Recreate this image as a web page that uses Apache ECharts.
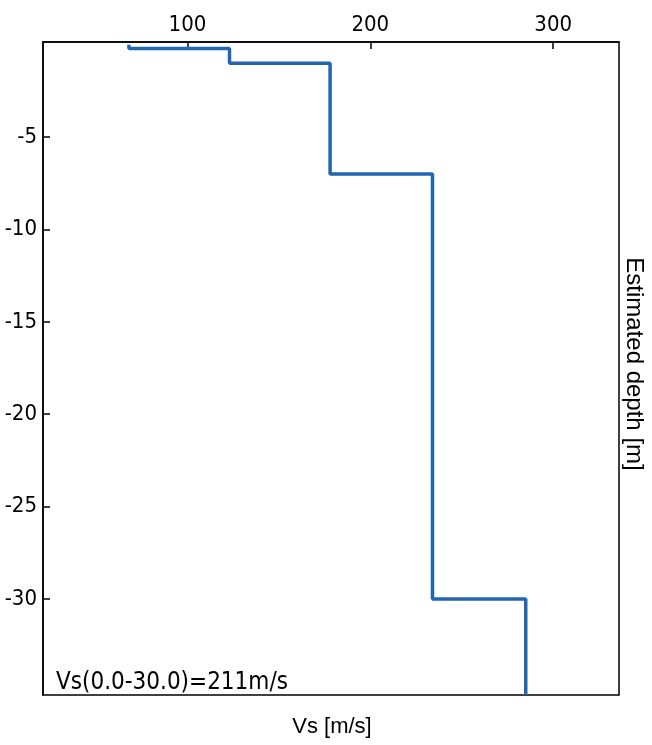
<!DOCTYPE html>
<html>
<head>
<meta charset="utf-8">
<script src="https://cdn.jsdelivr.net/npm/echarts@6/dist/echarts.min.js"></script>
<style>
	html, body { margin: 0; padding: 0; background: #ffffff; }
	#chart { width: 652px; height: 745px; }
</style>
</head>
<body>
<div id="chart"></div>
<script>
	// layer boundaries (m) and shear wave velocity per layer (m/s)
	var layerDepths = [0, 0.2, 1.0, 7.0, 30.0, 35.2];
	var layerVs = [68, 123, 178, 234, 285];
	var xTicks = [100, 200, 300];
	var yTicks = [-5, -10, -15, -20, -25, -30];
	var vs30Text = 'Vs(0.0-30.0)=211m/s';

	var narrow = "'Liberation Sans Narrow', 'DejaVu Sans Condensed', 'Liberation Sans', sans-serif";

	/*----step profile----*/
	var profile = [];
	for (var i = 0; i < layerVs.length; i++) {
		profile.push([layerVs[i], -layerDepths[i]]);
		profile.push([layerVs[i], -layerDepths[i + 1]]);
	}

	var chart = echarts.init(document.getElementById('chart'));
	var option = {
		animation: false,
		backgroundColor: '#ffffff',
		grid: {
			left: 43,
			top: 42,
			width: 576,
			height: 653,
			show: true,
			borderColor: '#000',
			borderWidth: 1.5,
			backgroundColor: 'transparent'
		},
		xAxis: {
			type: 'value',
			position: 'top',
			min: 21,
			max: 336,
			axisLine: { show: true, onZero: false, lineStyle: { color: '#000', width: 1.5 } },
			axisTick: { show: true, inside: true, length: 7, customValues: xTicks, lineStyle: { color: '#000', width: 1.5 } },
			axisLabel: { customValues: xTicks, fontSize: 22, fontFamily: narrow, color: '#000', margin: 6 },
			splitLine: { show: false }
		},
		yAxis: {
			type: 'value',
			min: -35.2,
			max: 0.15,
			axisLine: { show: true, onZero: false, lineStyle: { color: '#000', width: 1.5 } },
			axisTick: { show: true, inside: true, length: 7, customValues: yTicks, lineStyle: { color: '#000', width: 1.5 } },
			axisLabel: { customValues: yTicks, fontSize: 22, fontFamily: narrow, color: '#000', margin: 6 },
			splitLine: { show: false }
		},
		series: [{
			type: 'line',
			data: profile,
			showSymbol: false,
			lineStyle: { color: '#2266b0', width: 3.5 }
		}],
		graphic: [{
			type: 'text',
			left: 56,
			top: 671,
			style: { text: vs30Text, fontSize: 24, fontFamily: narrow, fill: '#000' }
		}, {
			type: 'text',
			x: 332,
			y: 727,
			style: { text: 'Vs [m/s]', fontSize: 22, fontFamily: "'Liberation Sans', Arial, sans-serif", fill: '#000', align: 'center', verticalAlign: 'middle' }
		}, {
			type: 'text',
			x: 634,
			y: 364,
			rotation: -Math.PI / 2,
			style: { text: 'Estimated depth [m]', fontSize: 24, fontFamily: "'Liberation Sans', Arial, sans-serif", fill: '#000', align: 'center', verticalAlign: 'middle' }
		}]
	};
	chart.setOption(option);
</script>
</body>
</html>
